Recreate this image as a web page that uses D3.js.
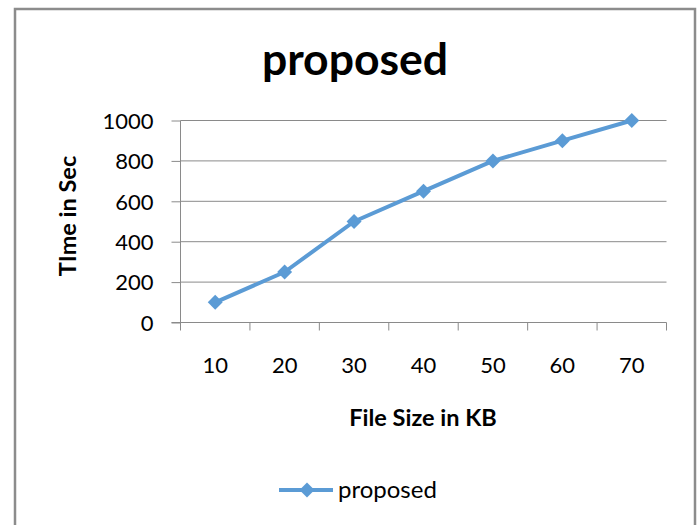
<!DOCTYPE html>
<html>
<head>
<meta charset="utf-8">
<script src="https://cdn.jsdelivr.net/npm/d3@7"></script>
<style>
  html, body { margin: 0; padding: 0; background: #fff; }
  svg { display: block; }
  text { font-family: Lato, "Open Sans", sans-serif; fill: #000; }
</style>
</head>
<body>
<svg id="chart" width="700" height="525"></svg>
<script>
// Chart data
const categories = ["10", "20", "30", "40", "50", "60", "70"];
const seriesName = "proposed";
const timeValues = [100, 250, 500, 650, 800, 900, 1000];
const yTicks = [0, 200, 400, 600, 800, 1000];

const svg = d3.select("#chart");

// Outer frame (open at the bottom edge)
svg.append("path")
  .attr("d", "M15,530 L15,9 L695,9 L695,530")
  .attr("fill", "none")
  .attr("stroke", "#8c8c8c")
  .attr("stroke-width", 2.5);

const plot = { left: 180.5, right: 666.5, top: 120.5, bottom: 322.5 };

const x = d3.scaleBand().domain(categories).range([plot.left, plot.right]).paddingInner(0).paddingOuter(0);
const y = d3.scaleLinear().domain([0, 1000]).range([plot.bottom, plot.top]);

// Horizontal gridlines
svg.append("g")
  .selectAll("line")
  .data(yTicks.filter(d => d > 0))
  .join("line")
  .attr("x1", plot.left).attr("x2", plot.right)
  .attr("y1", d => y(d)).attr("y2", d => y(d))
  .attr("stroke", "#8a8a8a").attr("stroke-width", 1);

// Y axis
const yAxis = svg.append("g")
  .attr("transform", `translate(${plot.left},0)`)
  .call(d3.axisLeft(y).tickValues(yTicks).tickSize(9).tickPadding(18).tickFormat(d3.format("d")));
yAxis.select(".domain").attr("stroke", "#8a8a8a").attr("d", `M0,${plot.top}V${plot.bottom}`);
yAxis.selectAll(".tick line").attr("stroke", "#8a8a8a");
yAxis.selectAll(".tick text")
  .attr("font-family", "Lato, 'Open Sans', sans-serif")
  .attr("font-size", 22).attr("fill", "#000").attr("dy", "0.35em");

// X axis: ticks sit between categories
const xAxisG = svg.append("g").attr("transform", `translate(0,${plot.bottom})`);
xAxisG.append("line")
  .attr("x1", plot.left - 9).attr("x2", plot.right)
  .attr("y1", 0).attr("y2", 0)
  .attr("stroke", "#8a8a8a");
const boundaries = categories.map(c => x(c)).concat([x(categories[categories.length - 1]) + x.bandwidth()]);
xAxisG.selectAll("line.tk")
  .data(boundaries)
  .join("line")
  .attr("class", "tk")
  .attr("x1", d => d).attr("x2", d => d)
  .attr("y1", 0).attr("y2", 8)
  .attr("stroke", "#8a8a8a");
xAxisG.selectAll("text.lbl")
  .data(categories)
  .join("text")
  .attr("class", "lbl")
  .attr("x", d => x(d) + x.bandwidth() / 2)
  .attr("y", 50)
  .attr("text-anchor", "middle")
  .attr("font-size", 22)
  .text(d => d);

// Series line and markers
const pts = categories.map((c, i) => [x(c) + x.bandwidth() / 2, y(timeValues[i])]);
svg.append("path")
  .attr("d", d3.line()(pts))
  .attr("fill", "none")
  .attr("stroke", "#5b9bd5")
  .attr("stroke-width", 4)
  .attr("stroke-linejoin", "round");

const diamond = d3.symbol().type(d3.symbolSquare).size(112);
svg.append("g")
  .selectAll("path")
  .data(pts)
  .join("path")
  .attr("d", diamond())
  .attr("transform", d => `translate(${d[0]},${d[1]}) rotate(45)`)
  .attr("fill", "#5b9bd5");

// Title
svg.append("text")
  .attr("x", 355).attr("y", 75)
  .attr("text-anchor", "middle")
  .attr("font-size", 44.5).attr("font-weight", "bold")
  .text(seriesName);

// Axis titles
svg.append("text")
  .attr("transform", "translate(76,216) rotate(-90)")
  .attr("text-anchor", "middle")
  .attr("font-size", 23.5).attr("font-weight", "bold")
  .text("TIme in Sec");

svg.append("text")
  .attr("x", 423).attr("y", 426)
  .attr("text-anchor", "middle")
  .attr("font-size", 23.5).attr("font-weight", "bold")
  .text("File Size in KB");

// Legend
const lg = svg.append("g");
lg.append("line")
  .attr("x1", 279).attr("x2", 333).attr("y1", 490).attr("y2", 490)
  .attr("stroke", "#5b9bd5").attr("stroke-width", 4);
lg.append("path")
  .attr("d", diamond())
  .attr("transform", "translate(307,490) rotate(45)")
  .attr("fill", "#5b9bd5");
lg.append("text")
  .attr("x", 338).attr("y", 498)
  .attr("font-size", 24)
  .text(seriesName);
</script>
</body>
</html>
